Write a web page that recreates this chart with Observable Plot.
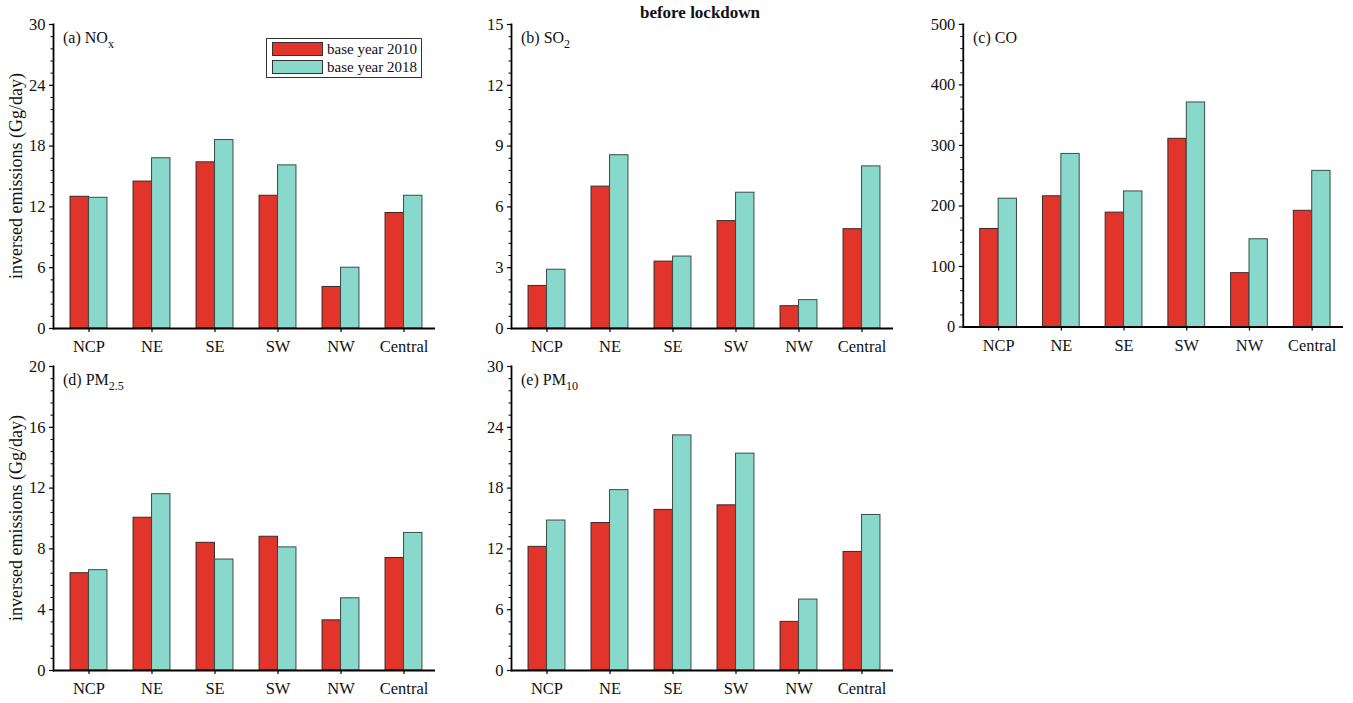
<!DOCTYPE html>
<html><head><meta charset="utf-8">
<script src="https://cdn.jsdelivr.net/npm/d3@7"></script>
<script src="https://cdn.jsdelivr.net/npm/@observablehq/plot@0.6"></script>
<style>
body{margin:0;background:#fff;font-family:"Liberation Serif","Times New Roman",serif;color:#111}
#root{position:relative;width:1353px;height:703px;overflow:hidden;background:#fff}
.panel{position:absolute}
.lab{position:absolute;font-size:16px;line-height:16px;white-space:nowrap;color:#111}
.lab sub{font-size:12px;line-height:0;vertical-align:-5px}
.ylab{position:absolute;font-size:18px;white-space:nowrap;transform:translate(-50%,-50%) rotate(-90deg);color:#111}
.title{position:absolute;left:700px;top:13px;transform:translate(-50%,-50%);font-weight:bold;font-size:17px;white-space:nowrap}
.legend{position:absolute;left:266px;top:38px;width:154px;height:38px;border:1.3px solid #333;background:#fff}
.legend .row{position:absolute;left:5px;height:14px;display:flex;align-items:center}
.legend .sw{width:49px;height:12px;border:1px solid #333;margin-right:4px}
.legend .tx{font-size:15px;line-height:14px}
</style></head>
<body><div id="root"></div>
<script>
const regions = ["NCP","NE","SE","SW","NW","Central"];
const seriesNames = ["base year 2010","base year 2018"];
const seriesColors = ["#E1352B","#88D8CB"];

const nox2010 = [13.0,14.5,16.4,13.1,4.1,11.4];
const nox2018 = [12.9,16.8,18.6,16.1,6.0,13.1];
const so2_2010 = [2.1,7.0,3.3,5.3,1.1,4.9];
const so2_2018 = [2.9,8.55,3.55,6.7,1.4,8.0];
const co2010 = [162,216,189,311,89,192];
const co2018 = [212,286,224,371,145,258];
const pm25_2010 = [6.4,10.05,8.4,8.8,3.3,7.4];
const pm25_2018 = [6.6,11.6,7.3,8.1,4.75,9.05];
const pm10_2010 = [12.2,14.55,15.85,16.3,4.8,11.7];
const pm10_2018 = [14.8,17.8,23.2,21.4,7.0,15.35];

const panels = [
  {label:"(a) NO<sub>x</sub>", a:nox2010, b:nox2018, max:30, step:6, left:0, top:0, ylab:true, legend:true},
  {label:"(b) SO<sub>2</sub>", a:so2_2010, b:so2_2018, max:15, step:3, left:458, top:0},
  {label:"(c) CO", a:co2010, b:co2018, max:500, step:100, left:910, top:0},
  {label:"(d) PM<sub>2.5</sub>", a:pm25_2010, b:pm25_2018, max:20, step:4, left:0, top:342, ylab:true},
  {label:"(e) PM<sub>10</sub>", a:pm10_2010, b:pm10_2018, max:30, step:6, left:458, top:342}
];

const root = document.getElementById("root");
const W = 445, H = 363, mL = 53, mR = 10, mT = 24, mB = 35, inset = 3.5;
const bw = (W - mL - mR - inset) / regions.length;
const barW = 18.5;

for (const p of panels) {
  const data = [];
  regions.forEach((r,i) => {
    data.push({region:r, series:seriesNames[0], value:p.a[i]});
    data.push({region:r, series:seriesNames[1], value:p.b[i]});
  });
  const major = d3.range(0, p.max + p.step/2, p.step);
  const minor = d3.range(0, p.max + 1e-9, p.step/5).filter(v => Math.abs(v/p.step - Math.round(v/p.step)) > 1e-6);
  const side = bw/2 - barW;
  const chart = Plot.plot({
    width: W, height: H,
    marginLeft: mL, marginRight: mR, marginTop: mT, marginBottom: mB,
    style: {background:"transparent", fontFamily:"Liberation Serif, serif", fontSize:"16px", color:"#000", overflow:"visible"},
    x: {domain: regions, padding: 0, insetLeft: inset},
    y: {domain: [0, p.max]},
    color: {domain: seriesNames, range: seriesColors},
    marks: [
      Plot.barY(data.filter(d => d.series === seriesNames[0]), {x:"region", y:"value", fill:"series", stroke:"#3a2a2a", strokeWidth:1, insetLeft: side, insetRight: bw/2}),
      Plot.barY(data.filter(d => d.series === seriesNames[1]), {x:"region", y:"value", fill:"series", stroke:"#3d4a48", strokeWidth:1, insetLeft: bw/2, insetRight: side}),
      Plot.axisY(minor, {tickSize: 2.5, tickFormat: () => "", label: null, stroke:"#000", strokeWidth:1, strokeOpacity:1}),
      Plot.axisY(major, {tickSize: 4, tickPadding: 4, label: null, fontSize: 16.5, stroke:"#000", strokeWidth:1.2, strokeOpacity:1, fill:"#111"}),
      Plot.axisX({tickSize: 4, tickPadding: 8, label: null, fontSize: 16.5, stroke:"#000", strokeWidth:1.2, strokeOpacity:1, fill:"#111"}),
      Plot.ruleY([0], {stroke:"#000", strokeWidth:1.8}),
      Plot.frame({anchor:"left", stroke:"#000", strokeWidth:1.8, strokeOpacity:1})
    ]
  });
  const div = document.createElement("div");
  div.className = "panel";
  div.style.left = p.left + "px";
  div.style.top = p.top + "px";
  div.appendChild(chart);
  root.appendChild(div);

  const lab = document.createElement("div");
  lab.className = "lab";
  lab.innerHTML = p.label;
  lab.style.left = (p.left + mL + 10) + "px";
  lab.style.top = (p.top + mT + 6) + "px";
  root.appendChild(lab);

  if (p.ylab) {
    const yl = document.createElement("div");
    yl.className = "ylab";
    yl.textContent = "inversed emissions (Gg/day)";
    yl.style.left = "16px";
    yl.style.top = (p.top + mT + (H - mT - mB)/2) + "px";
    root.appendChild(yl);
  }
  if (p.legend) {
    const lg = document.createElement("div");
    lg.className = "legend";
    lg.innerHTML = seriesNames.map((s,i) =>
      `<div class="row" style="top:${3 + i*18}px"><div class="sw" style="background:${seriesColors[i]}"></div><span class="tx">${s}</span></div>`).join("");
    root.appendChild(lg);
  }
}
const t = document.createElement("div");
t.className = "title";
t.textContent = "before lockdown";
root.appendChild(t);
</script>
</body></html>
